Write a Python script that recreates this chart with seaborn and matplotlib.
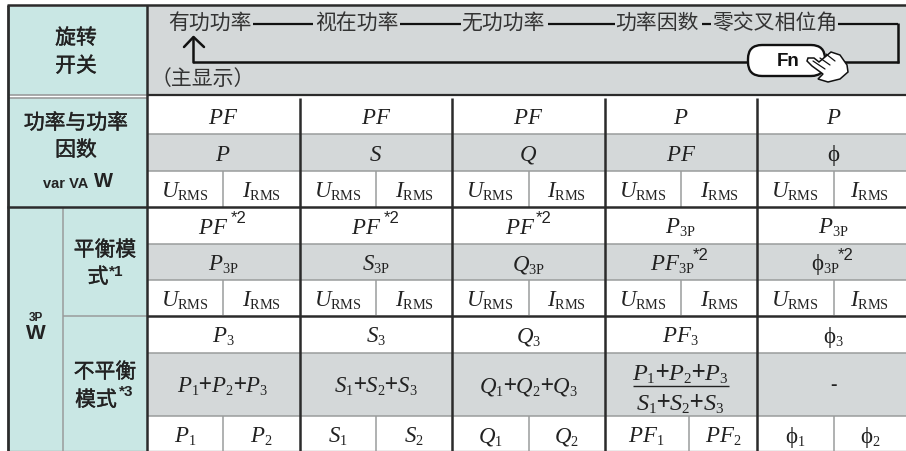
import numpy as np
import matplotlib
matplotlib.use("Agg")
import matplotlib.pyplot as plt
import matplotlib.patheffects as pe
import matplotlib._mathtext as mathtext_core
from matplotlib.colors import ListedColormap
from matplotlib.patches import FancyBboxPatch, Polygon
import seaborn as sns

sns.set_theme(style="white")
plt.rcParams["font.family"] = ["Noto Sans CJK SC", "DejaVu Sans"]
plt.rcParams["mathtext.fontset"] = "custom"
plt.rcParams["mathtext.rm"] = "Liberation Serif"
plt.rcParams["mathtext.it"] = "Liberation Serif:italic"
plt.rcParams["mathtext.bf"] = "Liberation Serif:bold"
# smaller subscripts than the mathtext default
mathtext_core.SHRINK_FACTOR = 0.62

DARK = "#2b2b2b"
GREY = "#9a9c9c"
INK = "#222222"
SANS = "Liberation Sans"

# table text, five measurement columns
sequence = ["有功功率", "视在功率", "无功功率", "功率因数", "零交叉相位角"]
sequence_x = [210, 357, 503, 657, 775]
row_top = ["PF", "PF", "PF", "P", "P"]
row_mid = ["P", "S", "Q", "PF", "ϕ"]
bal_top = ["PF", "PF", "PF", "P_{3P}", "P_{3P}"]
bal_mid = ["P_{3P}", "S_{3P}", "Q_{3P}", "PF_{3P}", "ϕ_{3P}"]
unbal_top = ["P_3", "S_3", "Q_3", "PF_3", "ϕ_3"]
unbal_mid = ["P_1+P_2+P_3", "S_1+S_2+S_3", "Q_1+Q_2+Q_3", None, "-"]
unbal_low = [("P_1", "P_2"), ("S_1", "S_2"), ("Q_1", "Q_2"), ("PF_1", "PF_2"), ("ϕ_1", "ϕ_2")]

# layout of the table in pixels
col_edges = [146.5, 299.5, 452, 604.5, 757, 906]
col_splits = [223, 376, 528.5, 681.3, 833.7]
low_splits = [223, 376, 528.5, 688.7, 833.7]
row_edges = [99, 135, 172, 208, 244.5, 281, 317, 354, 416.5, 454]
col_centers = [223, 376, 528.5, 680.7, 833.7]
row_centers = [(a + b) / 2 for a, b in zip(row_edges[:-1], row_edges[1:])]
bal_top_shift = [-10, -10, -8, 0, 0]
bal_mid_shift = [0, 0, 0, -8, -8]

# one heatmap cell per pixel: 0 white, 1 teal, 2 grey
band_heights = [7, 89, 39, 37, 73, 36, 73, 63, 35]
band_shades = [0, 2, 0, 2, 0, 2, 0, 2, 0]
band = np.repeat(band_shades, band_heights)
grid = np.tile(band[:, None], (1, 906))
grid[:, :8] = 0
grid[8:96, 8:147] = 1
grid[99:, 8:147] = 1

fig = plt.figure(figsize=(9.06, 4.52), dpi=100)
ax = fig.add_axes([0, 0, 1, 1])
sns.heatmap(grid, ax=ax, cmap=ListedColormap(["#ffffff", "#c9e7e4", "#d4d8d9"]), vmin=0, vmax=2,
            cbar=False, xticklabels=False, yticklabels=False, rasterized=True)
ax.set_xlim(0, 906)
ax.set_ylim(452, 0)
ax.set_axis_off()


def hline(y, x0, x1, color=GREY, lw=1.1):
    ax.plot([x0, x1], [y, y], color=color, lw=lw, solid_capstyle="butt", zorder=3)


def vline(x, y0, y1, color=GREY, lw=1.1):
    ax.plot([x, x], [y0, y1], color=color, lw=lw, solid_capstyle="butt", zorder=3)


def mathify(s):
    s = s.replace("ϕ", r"\mathrm{ϕ}").replace("3P", r"\mathrm{3P}").replace("RMS", r"\mathrm{RMS}")
    # plus signs stay outside the math so they keep the tight look
    return "+".join(f"${p}$" for p in s.split("+"))


def math(x, y, s, size=16.5):
    # y is the row centre, text sits on the baseline
    if s == "-":
        ax.text(x, y, s, fontsize=14, family=SANS, weight="bold", ha="center", va="center", color=INK, zorder=4)
        return
    ax.text(x, y + 7.5, mathify(s), fontsize=size, ha="center", va="baseline", color=INK, zorder=4)


def head(x, y, s):
    ax.text(x, y, s, fontsize=15, ha="center", va="center", color=INK, zorder=4,
            path_effects=[pe.withStroke(linewidth=0.3, foreground=INK)])


def note(x, y, s, size=11, weight="bold"):
    ax.text(x, y, s, fontsize=size, family=SANS, weight=weight, ha="left", va="center", color=INK, zorder=4)


# grey rules
for y in [135, 172, 244.5, 281, 354, 416.5]:
    hline(y, 147, 906)
hline(95.5, 8, 147, lw=1.2)
hline(99, 8, 147, lw=1.2)
hline(316.7, 63, 147)
vline(63.3, 208, 452)
for x in col_splits:
    vline(x, 172, 208)
    vline(x, 281, 316)
for x in low_splits:
    vline(x, 416.5, 452)

# dark rules
hline(6.3, 7, 906, DARK, 1.8)
hline(96, 147, 906, DARK, 1.6)
hline(208.3, 7, 906, DARK, 1.8)
hline(316.7, 147, 906, DARK, 1.8)
hline(451.6, 7, 906, GREY, 1.0)
vline(7.5, 6, 452, DARK, 2.0)
vline(146.5, 6, 452, DARK, 1.8)
for x in col_edges[1:5]:
    vline(x, 99, 452, DARK, 1.8)

# rotary switch row
for x, s in zip(sequence_x, sequence):
    ax.text(x, 23, s, fontsize=15, ha="center", va="center", color="#333333", zorder=4)
ax.text(203, 79, "（主显示）", fontsize=15, ha="center", va="center", color="#333333", zorder=4)
for x0, x1 in [(253, 313), (400, 461), (548, 615), (702, 711), (838, 898)]:
    hline(25, x0, x1, "#111111", 1.6)
vline(898, 24, 64, "#111111", 1.8)
hline(63, 193, 750, "#111111", 1.8)
hline(63, 830, 898.5, "#111111", 1.8)
ax.plot([193, 193], [63, 38], color="#111111", lw=1.8, zorder=4)
ax.plot([184, 193.5, 204], [48, 38, 48], color="#111111", lw=1.8, zorder=4)
ax.add_patch(FancyBboxPatch((748, 46), 77, 31, boxstyle="round,pad=0,rounding_size=14",
                            fc="white", ec="#111111", lw=1.7, zorder=4))
ax.text(788, 61, "Fn", fontsize=13.5, family=SANS, weight="bold", ha="center", va="center", color="#111111", zorder=6)
hand = [(808, 59), (814, 59), (819, 63), (825, 58), (831, 53), (840, 56), (847, 66), (848, 73), (840, 80),
        (828, 83), (818, 80), (823, 75), (812, 67), (807, 62)]
ax.add_patch(Polygon(hand, closed=True, fc="white", ec="#111111", lw=1.1, zorder=5))
for x0, y0, x1, y1 in [(813, 62, 825, 70), (820, 59, 830, 66), (826, 55, 835, 62)]:
    ax.plot([x0, x1], [y0, y1], color="#111111", lw=0.9, zorder=6)

# left header cells
for x, y, s in [(76, 39, "旋转"), (76, 67, "开关"), (76, 124, "功率与功率"), (76, 151, "因数"),
                (105, 251, "平衡模"), (98, 278, "式"), (105, 373, "不平衡"), (96, 401, "模式")]:
    head(x, y, s)
note(109, 272, "*1", 11)
note(119, 392, "*3", 11)
note(43, 184, "var VA", 10.5)
note(94, 182, "W", 14.5)
ax.text(35.5, 318, "3P", fontsize=8.5, family=SANS, weight="bold", ha="center", va="center", color=INK, zorder=4)
ax.text(35.5, 334, "W", fontsize=15, family=SANS, weight="bold", ha="center", va="center", color=INK, zorder=4)

# measurement cells
for i in range(5):
    left = col_edges[i]
    right = col_edges[i + 1]
    math(col_centers[i], row_centers[0], row_top[i])
    math(col_centers[i], row_centers[1], row_mid[i])
    math(col_centers[i] + bal_top_shift[i], row_centers[3], bal_top[i])
    math(col_centers[i] + bal_mid_shift[i], row_centers[4], bal_mid[i])
    for row in (2, 5):
        math((left + col_splits[i]) / 2, row_centers[row], "U_{RMS}")
        math((col_splits[i] + right) / 2, row_centers[row], "I_{RMS}")
    math(col_centers[i], row_centers[6], unbal_top[i])
    if unbal_mid[i] is not None:
        math(col_centers[i], row_centers[7], unbal_mid[i])
    a, b = unbal_low[i]
    math((left + low_splits[i]) / 2, row_centers[8], a)
    math((low_splits[i] + right) / 2, row_centers[8], b)

# fraction in the power factor column
ax.text(680.7, 381, mathify("P_1+P_2+P_3"), fontsize=17.5, ha="center", va="baseline", color=INK, zorder=4)
hline(386.5, 633, 729, INK, 1.0)
ax.text(680.7, 411, mathify("S_1+S_2+S_3"), fontsize=17.5, ha="center", va="baseline", color=INK, zorder=4)

# footnote marks
for x, y in [(231, 219), (384, 219), (536, 219), (693, 256), (838, 256)]:
    note(x, y, "*2", 12, "normal")

fig.savefig("out.png", dpi=100)
